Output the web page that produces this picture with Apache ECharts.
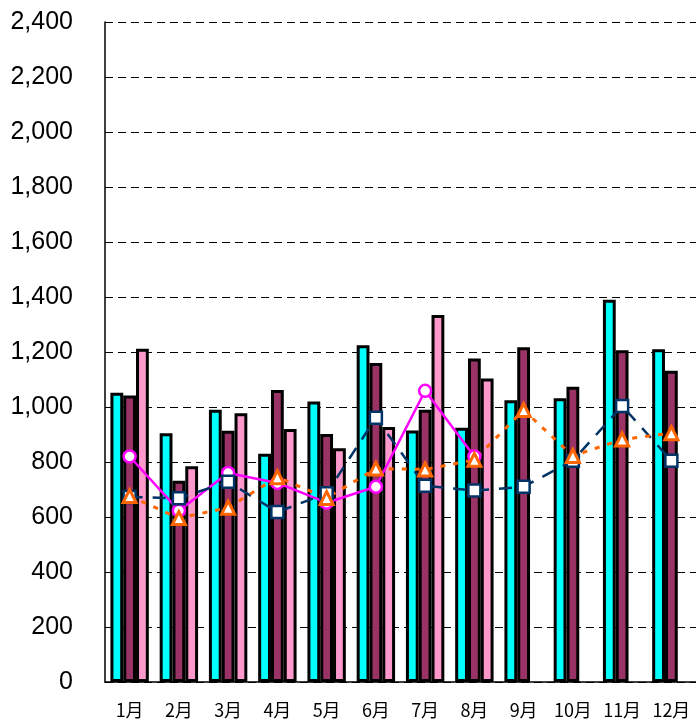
<!DOCTYPE html>
<html>
<head>
<meta charset="utf-8">
<script src="https://cdn.jsdelivr.net/npm/echarts@6/dist/echarts.min.js"></script>
<style>
html, body { margin: 0; padding: 0; background: #fff; }
#chart { width: 696px; height: 720px; }
</style>
</head>
<body>
<div id="chart"></div>
<script>
var meses = ['1月', '2月', '3月', '4月', '5月', '6月', '7月', '8月', '9月', '10月', '11月', '12月'];
// barras
var barCian = [1052, 905, 990, 830, 1020, 1225, 915, 925, 1025, 1032, 1390, 1210];
var barGranate = [1042, 732, 914, 1062, 902, 1160, 990, 1176, 1217, 1074, 1206, 1132];
var barRosa = [1212, 785, 977, 920, 850, 927, 1335, 1104, null, null, null, null];
// lineas
var lineaMagenta = [820, 623, 760, 724, 652, 710, 1059, 820, null, null, null, null];
var lineaAzul = [673, 668, 728, 618, 686, 961, 714, 696, 710, 805, 1004, 805];
var lineaNaranja = [676, 596, 634, 745, 669, 776, 773, 808, 989, 822, 882, 905];

var myChart = echarts.init(document.getElementById('chart'));

function barra(nombre, datos, color) {
    return {
        name: nombre,
        type: 'bar',
        data: datos,
        barWidth: 12.8,
        barGap: '0%',
        itemStyle: {color: color, borderColor: '#000', borderWidth: 3}
    };
}

myChart.setOption({
    animation: false,
    backgroundColor: '#fff',
    grid: {left: 105, top: 22, width: 595, height: 660},
    xAxis: {
        type: 'category',
        data: meses,
        axisLine: {lineStyle: {color: '#000', width: 1.5}},
        axisTick: {inside: true, length: 6, lineStyle: {color: '#000'}},
        axisLabel: {
            interval: 0,
            color: '#000',
            fontSize: 18,
            fontFamily: 'Noto Sans CJK JP',
            margin: 19
        }
    },
    yAxis: {
        type: 'value',
        min: 0,
        max: 2400,
        interval: 200,
        axisLine: {show: true, lineStyle: {color: '#000', width: 1.5}},
        axisTick: {show: true, inside: true, length: 6, lineStyle: {color: '#000'}},
        splitLine: {lineStyle: {color: '#000', width: 1, type: [8, 5]}},
        axisLabel: {
            color: '#000',
            fontSize: 25,
            fontFamily: 'Liberation Sans',
            margin: 32,
            formatter: function (v) {
                return v.toLocaleString('en-US');
            }
        }
    },
    series: [
        barra('A', barCian, '#00FFFF'),
        barra('B', barGranate, '#993366'),
        barra('C', barRosa, '#FF99CC'),
        {
            name: 'D',
            type: 'line',
            data: lineaMagenta,
            symbol: 'circle',
            symbolSize: 12,
            lineStyle: {color: '#FF00FF', width: 2.5},
            itemStyle: {color: '#fff', borderColor: '#FF00FF', borderWidth: 2.5}
        },
        {
            name: 'E',
            type: 'line',
            data: lineaAzul,
            symbol: 'rect',
            symbolSize: 12,
            lineStyle: {color: '#003366', width: 2.5, type: [13, 10]},
            itemStyle: {color: '#fff', borderColor: '#003366', borderWidth: 2.5}
        },
        {
            name: 'F',
            type: 'line',
            data: lineaNaranja,
            symbol: 'triangle',
            symbolSize: 13,
            lineStyle: {color: '#FF6600', width: 3, type: [5, 8]},
            itemStyle: {color: '#fff', borderColor: '#FF6600', borderWidth: 3}
        }
    ]
});
</script>
</body>
</html>
